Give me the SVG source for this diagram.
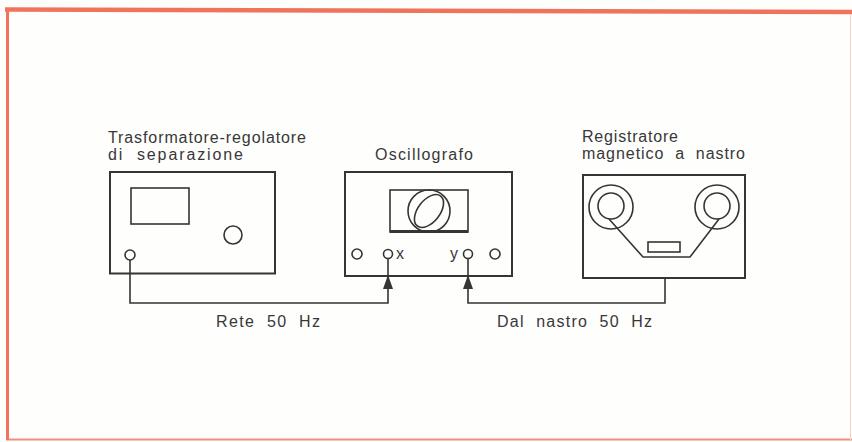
<svg xmlns="http://www.w3.org/2000/svg" width="852" height="442" viewBox="0 0 852 442">
  <style>
    .frame { stroke: #f2735b; fill: none; }
    .box { fill: none; stroke: #353535; stroke-width: 2; }
    .thin { fill: none; stroke: #353535; stroke-width: 1.6; }
    .wire { fill: none; stroke: #353535; stroke-width: 1.6; }
    .lbl { font-family: "Liberation Sans", Arial, sans-serif; font-size: 16px; fill: #383838; }
  </style>
  <defs>
    <!-- filled arrowhead, tip at the end of the path -->
    <marker id="arrow" viewBox="0 0 14 10" refX="13" refY="5" markerWidth="14" markerHeight="10" markerUnits="userSpaceOnUse" orient="auto">
      <path d="M0,0 L14,5 L0,10 Z" fill="#353535"/>
    </marker>
  </defs>

  <rect width="852" height="442" fill="#fefefd"/>

  <!-- page frame -->
  <g id="frame">
    <line class="frame" x1="5" y1="9.5" x2="852" y2="12" stroke-width="4.5"/>
    <line class="frame" x1="7.5" y1="8" x2="7.5" y2="440" stroke-width="3"/>
    <line class="frame" x1="6" y1="439.5" x2="852" y2="439.5" stroke-width="2" opacity="0.8"/>
    <line x1="850.5" y1="14" x2="850.5" y2="440" stroke="#f6d3c4" stroke-width="1"/>
  </g>

  <!-- isolating transformer / regulator -->
  <g id="trasformatore">
    <text class="lbl" x="108" y="143" textLength="198" lengthAdjust="spacing">Trasformatore-regolatore</text>
    <text class="lbl" x="108" y="160" textLength="135" lengthAdjust="spacing" xml:space="preserve">di  separazione</text>
    <rect class="box" x="110" y="172" width="165" height="101.5"/>
    <rect class="thin" x="131" y="188" width="58" height="36"/>
    <circle class="thin" cx="233" cy="235" r="9"/>
    <circle class="thin" cx="130" cy="255" r="5"/>
  </g>

  <!-- oscilloscope -->
  <g id="oscillografo">
    <text class="lbl" x="375" y="160" textLength="98" lengthAdjust="spacing">Oscillografo</text>
    <rect class="box" x="345" y="172" width="167" height="104"/>
    <rect class="thin" x="390" y="190" width="78" height="42"/>
    <line x1="390" y1="231.5" x2="468" y2="231.5" stroke="#353535" stroke-width="3"/>
    <circle class="thin" cx="429" cy="211" r="21"/>
    <ellipse class="thin" cx="429" cy="211" rx="11" ry="19" transform="rotate(38 429 211)"/>
    <circle class="thin" cx="357" cy="254" r="5"/>
    <circle class="thin" cx="388" cy="254" r="4.5"/>
    <text class="lbl" x="396" y="259">x</text>
    <text class="lbl" x="450" y="259">y</text>
    <circle class="thin" cx="468" cy="254" r="4.5"/>
    <circle class="thin" cx="495" cy="254" r="5"/>
  </g>

  <!-- tape recorder -->
  <g id="registratore">
    <text class="lbl" x="582" y="142" textLength="96" lengthAdjust="spacing">Registratore</text>
    <text class="lbl" x="582" y="159" textLength="163" lengthAdjust="spacing" xml:space="preserve">magnetico  a  nastro</text>
    <rect class="box" x="583" y="175" width="162" height="103"/>
    <circle class="thin" cx="611" cy="207" r="22"/>
    <circle class="thin" cx="611" cy="206" r="13"/>
    <circle class="thin" cx="717" cy="207" r="22"/>
    <circle class="thin" cx="717" cy="206" r="13"/>
    <polyline class="thin" points="609,219 643,257 690,257 719,219"/>
    <rect class="thin" x="648" y="242" width="32" height="10"/>
  </g>

  <!-- connections -->
  <g id="connectors">
    <line class="wire" x1="388" y1="258.5" x2="388" y2="278"/>
    <polyline class="wire" points="130,260 130,303 388,303 388,276" marker-end="url(#arrow)"/>
    <line class="wire" x1="468" y1="258.5" x2="468" y2="278"/>
    <polyline class="wire" points="665,278 665,303 468,303 468,276" marker-end="url(#arrow)"/>
    <text class="lbl" x="216" y="327" textLength="104" lengthAdjust="spacing" xml:space="preserve">Rete  50  Hz</text>
    <text class="lbl" x="497" y="327" textLength="155" lengthAdjust="spacing" xml:space="preserve">Dal  nastro  50  Hz</text>
  </g>
</svg>
